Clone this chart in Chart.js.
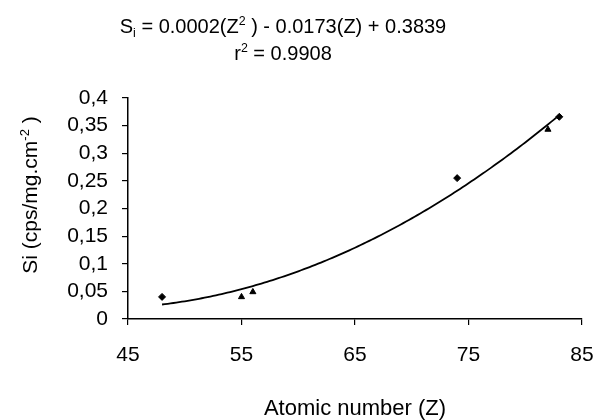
<!DOCTYPE html>
<html><head><meta charset="utf-8">
<script src="https://cdn.jsdelivr.net/npm/chart.js@4"></script>
<style>html,body{margin:0;padding:0;background:#fff;overflow:hidden}</style>
</head><body>
<canvas id="c" width="595" height="420"></canvas>
<script>
// ---- data ----
const zDiamond = [48, 74, 83];
const siDiamond = [0.040, 0.255, 0.366];
const zTriangle = [55, 56, 82];
const siTriangle = [0.040, 0.049, 0.343];
const xTicks = [45, 55, 65, 75, 85];
const yTicks = [0, 0.05, 0.1, 0.15, 0.2, 0.25, 0.3, 0.35, 0.4];
const trendFrom = 48, trendTo = 83;
const xTitle = 'Atomic number (Z)';
const yTitle = [['Si (cps/mg.cm', 0], ['-2', 1], [' )', 0]];
const title1 = [['S', 0], ['i', -1], [' = 0.0002(Z', 0], ['2', 1], [' ) - 0.0173(Z) + 0.3839', 0]];
const title2 = [['r', 0], ['2', 1], [' = 0.9908', 0]];

// ---- least-squares quadratic trendline (as the spreadsheet computes it) ----
function quadFit(xs, ys) {
  let S = [0,0,0,0,0], T = [0,0,0];
  xs.forEach((x, i) => {
    for (let k = 0; k < 5; k++) S[k] += Math.pow(x, k);
    for (let k = 0; k < 3; k++) T[k] += Math.pow(x, k) * ys[i];
  });
  const M = [[S[0],S[1],S[2],T[0]],[S[1],S[2],S[3],T[1]],[S[2],S[3],S[4],T[2]]];
  for (let i = 0; i < 3; i++) {
    for (let j = i + 1; j < 3; j++) {
      const f = M[j][i] / M[i][i];
      for (let k = i; k < 4; k++) M[j][k] -= f * M[i][k];
    }
  }
  const r = [0,0,0];
  for (let i = 2; i >= 0; i--) {
    let s = M[i][3];
    for (let k = i + 1; k < 3; k++) s -= M[i][k] * r[k];
    r[i] = s / M[i][i];
  }
  return r; // c0, c1, c2
}
const allZ = zDiamond.concat(zTriangle);
const allSi = siDiamond.concat(siTriangle);
const coef = quadFit(allZ, allSi);
const trend = [];
for (let z = trendFrom; z <= trendTo + 1e-9; z += 0.25) {
  trend.push({x: z, y: coef[0] + coef[1]*z + coef[2]*z*z});
}

const FONT = '"Liberation Sans", Arial, sans-serif';

function drawRich(ctx, segs, size, cx, cy) {
  const w = segs.map(s => {
    ctx.font = (s[1] ? size*0.62 : size) + 'px ' + FONT;
    return ctx.measureText(s[0]).width;
  });
  const total = w.reduce((a,b)=>a+b, 0);
  let x = cx - total/2;
  segs.forEach((s, i) => {
    ctx.font = (s[1] ? size*0.62 : size) + 'px ' + FONT;
    const dy = s[1] === 1 ? -size*0.38 : (s[1] === -1 ? size*0.2 : 0);
    ctx.fillText(s[0], x, cy + dy);
    x += w[i];
  });
}

const textPlugin = {
  id: 'texts',
  afterDraw(chart) {
    const ctx = chart.ctx;
    const ca = chart.chartArea;
    ctx.save();
    ctx.fillStyle = '#000';
    ctx.textBaseline = 'alphabetic';
    ctx.textAlign = 'left';
    drawRich(ctx, title1, 20, 283, 33);
    drawRich(ctx, title2, 20, 283, 60);
    ctx.font = '22px ' + FONT;
    ctx.textAlign = 'center';
    ctx.fillText(xTitle, (ca.left + ca.right)/2, 415);
    ctx.textAlign = 'left';
    ctx.translate(37, 195);
    ctx.rotate(-Math.PI/2);
    drawRich(ctx, yTitle, 21, 0, 0);
    ctx.restore();
  }
};

new Chart(document.getElementById('c'), {
  type: 'scatter',
  data: {
    datasets: [
      { label: 'trend', type: 'line', data: trend, borderColor: '#000', borderWidth: 1.8,
        pointRadius: 0, fill: false, tension: 0 },
      { label: 'diamond', data: zDiamond.map((z,i)=>({x:z, y:siDiamond[i]})),
        pointStyle: 'rectRot', pointRadius: 3.5, backgroundColor: '#000', borderColor: '#000', borderWidth: 1 },
      { label: 'triangle', data: zTriangle.map((z,i)=>({x:z, y:siTriangle[i]})),
        pointStyle: 'triangle', pointRadius: 3.5, backgroundColor: '#000', borderColor: '#000', borderWidth: 1 }
    ]
  },
  options: {
    responsive: false,
    animation: false,
    devicePixelRatio: 1,
    layout: { padding: { top: 98, right: 0, left: 0, bottom: 0 } },
    plugins: { legend: { display: false }, tooltip: { enabled: false } },
    scales: {
      x: {
        type: 'linear', min: 45, max: 85,
        afterBuildTicks: s => { s.ticks = xTicks.map(v => ({value: v})); },
        afterFit: s => { s.height = 101; s.paddingRight = 13; },
        grid: { drawOnChartArea: false, drawTicks: true, tickLength: 6, color: '#000', lineWidth: 1.2 },
        border: { color: '#000', width: 1.5 },
        ticks: { color: '#000', font: { size: 21, family: FONT }, padding: 18, maxRotation: 0, autoSkip: false }
      },
      y: {
        type: 'linear', min: 0, max: 0.4,
        afterBuildTicks: s => { s.ticks = yTicks.map(v => ({value: v})); },
        afterFit: s => { s.width = 128; },
        grid: { drawOnChartArea: false, drawTicks: true, tickLength: 6, color: '#000', lineWidth: 1.2 },
        border: { color: '#000', width: 1.5 },
        ticks: { color: '#000', font: { size: 21, family: FONT }, padding: 14, autoSkip: false,
          callback: v => String(+Number(v).toFixed(2)).replace('.', ',') }
      }
    }
  },
  plugins: [textPlugin]
});
</script>
</body></html>
